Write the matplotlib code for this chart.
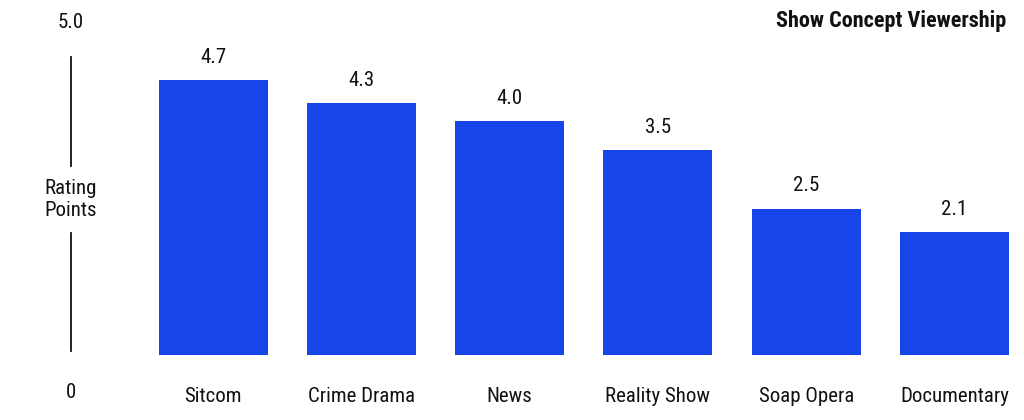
import matplotlib
matplotlib.use('Agg')
import matplotlib.pyplot as plt
import matplotlib.font_manager as fm

# data
categories = ['Sitcom', 'Crime Drama', 'News', 'Reality Show', 'Soap Opera', 'Documentary']
ratings = [4.7, 4.3, 4.0, 3.5, 2.5, 2.1]
value_labels = ['4.7', '4.3', '4.0', '3.5', '2.5', '2.1']
title = 'Show Concept Viewership'
y_label = 'Rating\nPoints'
y_top_label = '5.0'
y_bottom_label = '0'

names = {f.name for f in fm.fontManager.ttflist}
family = 'DejaVu Sans'
for cand in ['Roboto Condensed', 'Liberation Sans Narrow', 'Roboto']:
    if cand in names:
        family = cand
        break
plt.rcParams['font.family'] = [family, 'DejaVu Sans']

W, H = 1024, 420
fig = plt.figure(figsize=(W / 100, H / 100), dpi=100)
ax = fig.add_axes([0, 0, 1, 1])

# pixel mapping: first bar centre ~213 px, step ~148.3 px; baseline 355 px from top, 58.5 px per point
step = 148.3
x0 = 213.0
ax.set_xlim(-x0 / step, (W - x0) / step)
py = 58.5
ax.set_ylim(-(H - 355) / py, 355 / py)
ax.axis('off')

color = '#1745E8'
text_col = '#111111'
bars = ax.bar(range(len(categories)), ratings, width=109 / step, color=color)

for i, (v, lab) in enumerate(zip(ratings, value_labels)):
    ax.annotate(lab, xy=(i, v), xytext=(0, 12.5), textcoords='offset points',
                ha='center', va='baseline', fontsize=15, color=text_col)
    ax.annotate(categories[i], xy=(i, 0), xytext=(0, -30), textcoords='offset points',
                ha='center', va='center', fontsize=15, color=text_col)

# y-axis decoration in pixel positions
def fx(px):
    return px / W

def fy(px):
    return 1 - px / H

ax.plot([fx(71), fx(71)], [fy(57), fy(166)], transform=ax.transAxes, color=text_col, lw=1.3)
ax.plot([fx(71), fx(71)], [fy(233), fy(351)], transform=ax.transAxes, color=text_col, lw=1.3)
ax.text(fx(71), fy(22), y_top_label, transform=ax.transAxes, ha='center', va='center',
        fontsize=15, color=text_col)
ax.text(fx(71), fy(392), y_bottom_label, transform=ax.transAxes, ha='center', va='center',
        fontsize=15, color=text_col)
ax.text(fx(71), fy(200), y_label, transform=ax.transAxes, ha='center', va='center',
        fontsize=15, color=text_col, linespacing=1.2)

ax.text(fx(1006), fy(21), title, transform=ax.transAxes, ha='right', va='center',
        fontsize=16, fontweight='bold', color=text_col)

fig.savefig('out.png', dpi=100)
